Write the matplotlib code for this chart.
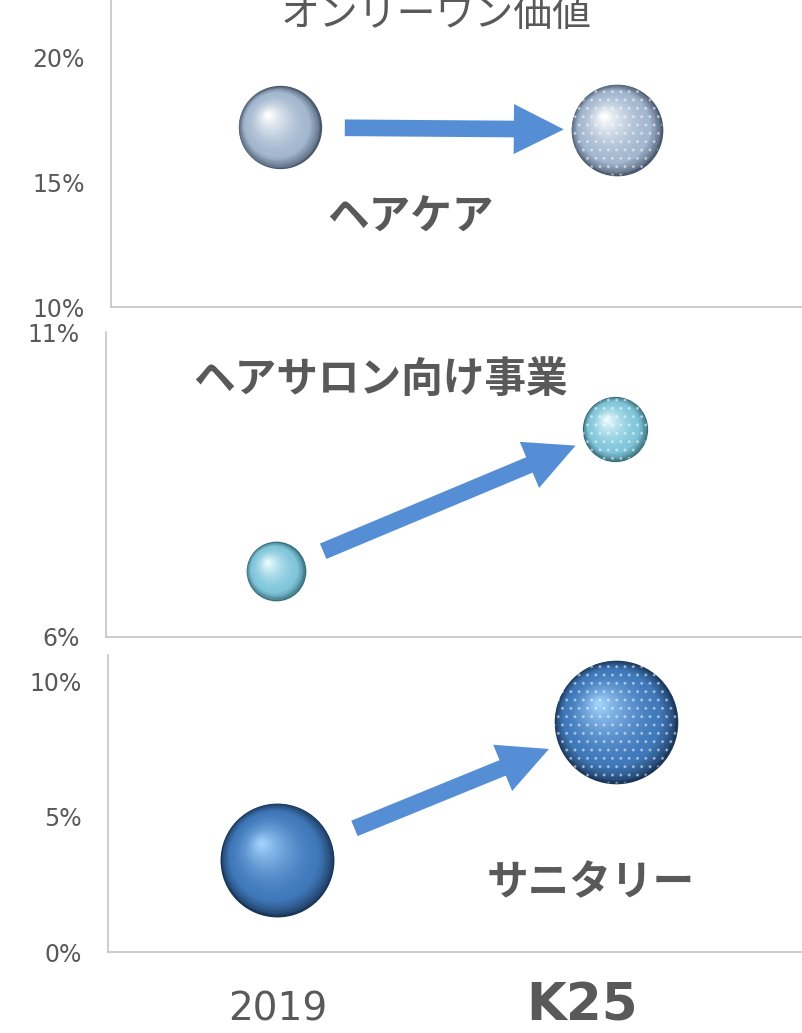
import numpy as np
import matplotlib
matplotlib.use("Agg")
import matplotlib.pyplot as plt
from matplotlib import transforms
from matplotlib.colors import to_rgb

# === Data ===
YEARS = ["2019", "K25"]
X_POS = [1, 2]
SEGMENTS = ["ヘアケア", "ヘアサロン向け事業", "サニタリー"]
HAIRCARE = [17.2, 17.1]       # %
SALON = [7.08, 9.41]          # %
SANITARY = [3.4, 8.5]         # %
# bubble sizes (diameter, pt)
SIZE_HAIRCARE = [60, 66]
SIZE_SALON = [43, 47]
SIZE_SANITARY = [82, 89]
YTICKS = [[10, 15, 20], [6, 11], [0, 5, 10]]
YLIMS = [(10, 22.3), (6, 11), (0, 10.96)]

GREY = "#595959"
SPINE = "#c0c0c0"
ARROW = "#558ed5"
# (edge, base, highlight) per panel
PALETTE = [("#4a586c", "#a3b7cf", "#ffffff"),
           ("#336876", "#80c6da", "#eafcff"),
           ("#1a3658", "#4079bb", "#a0d0fb")]

plt.rcParams.update({"font.family": ["DejaVu Sans", "Noto Sans CJK JP"]})
JP = ["Noto Sans CJK JP", "DejaVu Sans"]

fig = plt.figure(figsize=(8.02, 10.33), dpi=100)
boxes = [[0.1384, 0.7028, 0.8616, 0.2972],
         [0.1322, 0.3834, 0.8678, 0.2952],
         [0.1347, 0.0784, 0.8653, 0.2875]]


def sphere(ax, x, y, diam, cols, dotted=False, n=36):
    edge, base, hi = [np.array(to_rgb(c)) for c in cols]
    R = diam / 2
    hx, hy = -0.3 * R, 0.32 * R
    for k in range(n):
        t = k / (n - 1)
        r = 1 - 0.95 * t
        if t < 0.22:
            c = edge + (base - edge) * (t / 0.22) ** 0.7
        else:
            c = base + (hi - base) * ((t - 0.22) / 0.78) ** 1.6
        tr = transforms.offset_copy(ax.transData, fig=fig, x=(1 - r) * hx,
                                    y=(1 - r) * hy, units="points")
        ax.scatter([x], [y], s=(diam * r) ** 2, color=c, linewidths=0,
                   transform=tr, zorder=3 + k * 0.01)
    if dotted:
        ax.scatter([x], [y], s=diam ** 2, facecolor="none",
                   edgecolor=(1, 1, 1, 0.4), hatch="..", linewidths=0, zorder=4)


panels = [(HAIRCARE, SIZE_HAIRCARE), (SALON, SIZE_SALON), (SANITARY, SIZE_SANITARY)]
shrinks = [(47, 38), (37, 31), (60, 52)]
label_pos = [(0.433, 0.29), (0.394, 0.843), (0.696, 0.232)]
axes = []
for i, (vals, sizes) in enumerate(panels):
    ax = fig.add_axes(boxes[i])
    axes.append(ax)
    ax.set_xlim(0.5, 2.55)
    ax.set_ylim(*YLIMS[i])
    for s in ["top", "right"]:
        ax.spines[s].set_visible(False)
    for s in ["left", "bottom"]:
        ax.spines[s].set_color(SPINE)
        ax.spines[s].set_linewidth(1.1)
    ax.set_yticks(YTICKS[i])
    ax.set_yticklabels([f"{v}%" for v in YTICKS[i]])
    ax.tick_params(axis="y", length=0, pad=19, labelsize=17, labelcolor=GREY)
    ax.set_xticks([])

    for j, x in enumerate(X_POS):
        sphere(ax, x, vals[j], sizes[j], PALETTE[i], dotted=(j == 1))

    sa, sb = shrinks[i]
    ax.annotate("", xy=(X_POS[1], vals[1]), xytext=(X_POS[0], vals[0]),
                arrowprops=dict(arrowstyle="simple,head_length=3.0,head_width=3.0,tail_width=1.0",
                                mutation_scale=12, color=ARROW, lw=0,
                                shrinkA=sa, shrinkB=sb), zorder=2)

    lx, ly = label_pos[i]
    ax.text(lx, ly, SEGMENTS[i], transform=ax.transAxes, ha="center", va="center",
            fontsize=30, fontweight="bold", color=GREY, family=JP)

# x labels under bottom panel
ax3 = axes[2]
ax3.text(X_POS[0], -0.195, YEARS[0], transform=ax3.get_xaxis_transform(),
         ha="center", va="center", fontsize=28, color=GREY)
ax3.text(X_POS[1] - 0.1, -0.185, YEARS[1], transform=ax3.get_xaxis_transform(),
         ha="center", va="center", fontsize=37, fontweight="bold", color=GREY)

# title (cut off at the top)
fig.text(0.544, 1 - 26 / 1033, "オンリーワン価値", ha="center", va="baseline",
         fontsize=28, color=GREY, family=JP)

fig.savefig("out.png", dpi=100)
